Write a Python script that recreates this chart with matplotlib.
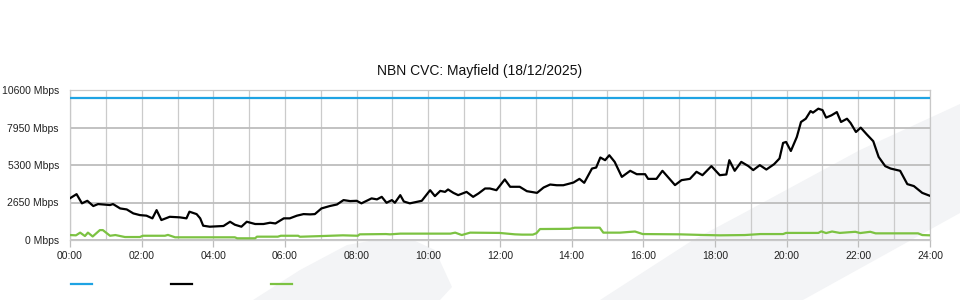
import matplotlib
matplotlib.use("Agg")
import matplotlib.pyplot as plt
from matplotlib.patches import Polygon
from matplotlib.lines import Line2D
import numpy as np

plt.rcParams['font.family'] = ['Liberation Sans', 'DejaVu Sans']

title = "NBN CVC: Mayfield (18/12/2025)"

# capacity line (Mbps)
capacity_hours = [0, 24]
capacity_mbps = [10000, 10000]

# download traffic (time "HH:MM", Mbps)
down_times = ["00:00", "00:11", "00:20", "00:29", "00:39", "00:47", "01:07", "01:12", "01:24", "01:35",
              "01:46", "01:57", "02:08", "02:18", "02:25", "02:33", "02:47", "03:04", "03:15", "03:20",
              "03:32", "03:38", "03:43", "03:54", "04:17", "04:28", "04:36", "04:47", "04:56", "05:10",
              "05:24", "05:35", "05:44", "05:58", "06:08", "06:20", "06:31", "06:42", "06:50", "07:01",
              "07:15", "07:27", "07:38", "07:49", "08:00", "08:08", "08:25", "08:34", "08:42", "08:50",
              "08:59", "09:04", "09:13", "09:19", "09:29", "09:49", "10:03", "10:11", "10:20", "10:28",
              "10:33", "10:42", "10:50", "11:04", "11:15", "11:24", "11:35", "11:43", "11:54", "12:08",
              "12:17", "12:33", "12:45", "13:02", "13:13", "13:24", "13:35", "13:46", "14:03", "14:13",
              "14:21", "14:34", "14:41", "14:48", "14:56", "15:03", "15:12", "15:24", "15:38", "15:49",
              "16:03", "16:08", "16:22", "16:32", "16:41", "16:53", "17:04", "17:18", "17:29", "17:39",
              "17:54", "18:08", "18:19", "18:24", "18:33", "18:44", "18:56", "19:04", "19:15", "19:26",
              "19:39", "19:48", "19:54", "19:59", "20:07", "20:17", "20:24", "20:32", "20:40", "20:44",
              "20:53", "21:00", "21:06", "21:15", "21:24", "21:31", "21:41", "21:47", "21:56", "22:04",
              "22:14", "22:25", "22:34", "22:45", "22:54", "23:10", "23:22", "23:33", "23:47", "24:00"]
down_mbps = [2950, 3240, 2590, 2770, 2400, 2540, 2470, 2540, 2230, 2160,
             1880, 1760, 1720, 1530, 2110, 1410, 1640, 1600, 1530, 2000,
             1830, 1530, 1010, 940, 990, 1290, 1080, 940, 1290, 1130,
             1130, 1220, 1170, 1530, 1530, 1720, 1830, 1810, 1830, 2230,
             2400, 2510, 2820, 2750, 2770, 2590, 2940, 2870, 3050, 2630,
             2820, 2630, 3170, 2720, 2590, 2770, 3520, 3100, 3470, 3400,
             3570, 3330, 3170, 3400, 3050, 3290, 3640, 3640, 3520, 4280,
             3760, 3760, 3450, 3330, 3710, 3920, 3870, 3870, 4060, 4320,
             4040, 5050, 5120, 5830, 5640, 5990, 5520, 4460, 4890, 4650,
             4650, 4320, 4320, 4890, 4460, 3880, 4230, 4320, 4820, 4580,
             5220, 4580, 4630, 5640, 4890, 5520, 5220, 4940, 5290, 4980,
             5360, 5760, 6860, 6930, 6290, 7280, 8340, 8570, 9110, 9000,
             9280, 9180, 8650, 8810, 9040, 8340, 8570, 8270, 7630, 7940,
             7470, 6980, 5870, 5220, 5050, 4890, 3950, 3810, 3330, 3120]

# upload traffic
up_times = ["00:00", "00:10", "00:17", "00:25", "00:30", "00:38", "00:50", "00:55", "01:07", "01:16",
            "01:32", "01:57", "02:02", "02:39", "02:44", "02:56", "04:36", "04:40", "05:10", "05:13",
            "05:48", "05:53", "06:22", "06:25", "06:55", "07:37", "08:02", "08:05", "08:49", "08:56",
            "09:13", "10:37", "10:45", "10:56", "11:10", "11:59", "12:25", "12:37", "12:55", "13:01",
            "13:07", "13:57", "14:05", "14:47", "14:53", "15:21", "15:46", "15:59", "17:01", "17:35",
            "18:08", "18:50", "19:16", "19:54", "19:59", "20:53", "20:58", "21:06", "21:16", "21:29",
            "21:55", "22:03", "22:20", "22:29", "23:40", "23:47", "24:00"]
up_mbps = [350, 330, 520, 280, 520, 250, 700, 700, 300, 350,
           210, 210, 300, 300, 360, 190, 190, 120, 120, 235,
           235, 300, 300, 230, 270, 330, 300, 400, 420, 400,
           450, 450, 520, 350, 520, 500, 400, 380, 380, 480,
           775, 790, 870, 870, 520, 520, 600, 420, 400, 360,
           330, 350, 420, 420, 500, 500, 610, 490, 600, 500,
           580, 490, 580, 470, 470, 350, 330]

y_ticks = [0, 2650, 5300, 7950, 10600]


def to_hours(times):
    out = []
    for t in times:
        h, m = t.split(":")
        out.append(int(h) + int(m) / 60.)
    return np.array(out)


fig = plt.figure(figsize=(9.6, 3.0), dpi=100)
fig.patch.set_facecolor('white')

# faint watermark shapes behind the chart (figure pixel coords)
W, H = 960., 300.
shapes = [
    [(253, 300), (300, 270), (347, 245), (375, 240), (413, 240), (435, 250), (452, 287), (440, 300)],
    [(600, 300), (693, 240), (740, 215), (860, 150), (960, 104), (960, 213), (803, 300)],
]
for pts in shapes:
    poly = Polygon([(x / W, 1 - y / H) for x, y in pts], closed=True,
                   transform=fig.transFigure, facecolor='#f3f4f6', edgecolor='none', zorder=0)
    fig.add_artist(poly)

ax = fig.add_axes([70 / W, 60 / H, 860 / W, 150 / H])
ax.patch.set_alpha(0)

l_cap, = ax.plot(capacity_hours, capacity_mbps, color='#1ea3e3', lw=1.6, zorder=4)
l_down, = ax.plot(to_hours(down_times), down_mbps, color='black', lw=1.6, zorder=4)
l_up, = ax.plot(to_hours(up_times), up_mbps, color='#7cc242', lw=1.6, zorder=4)

ax.set_xlim(0, 24)
ax.set_ylim(0, 10600)

ax.set_xticks(np.arange(0, 25, 2))
ax.set_xticklabels(["{:02d}:00".format(h) for h in range(0, 25, 2)])
ax.set_xticks(np.arange(0, 25, 1), minor=True)
ax.set_yticks(y_ticks)
ax.set_yticklabels(["{} Mbps".format(v) for v in y_ticks])

ax.grid(True, axis='x', which='both', color='#cbcbcb', lw=0.9, zorder=1)
ax.grid(True, axis='y', which='major', color='#bdbdbd', lw=1.3, zorder=1)

ax.tick_params(axis='x', which='major', length=5, width=0.9, color='#bdbdbd',
               labelsize=7.5, pad=3, labelcolor='#222222')
ax.tick_params(axis='x', which='minor', length=0)
ax.tick_params(axis='y', length=0, labelsize=7.5, pad=8, labelcolor='#222222')

for s in ax.spines.values():
    s.set_color('#c8c8c8')
    s.set_linewidth(0.9)

fig.text(0.5, 1 - 71 / H, title, ha='center', va='center', fontsize=10, color='#111111')

fig.legend([l_cap, l_down, l_up], ['', '', ''], ncol=3, frameon=False,
           loc='center left', bbox_to_anchor=(62 / W, 1 - 285 / H),
           handlelength=2.0, handletextpad=0.0, columnspacing=7.6, fontsize=7.5)

fig.savefig("out.png", dpi=100)
